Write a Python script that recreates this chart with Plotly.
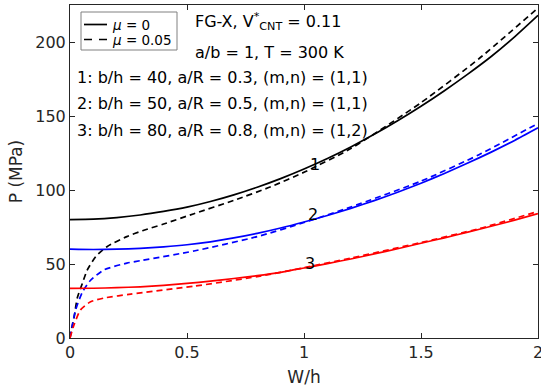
import plotly.graph_objects as go

# Solid curves (mu = 0)
w_solid = [0, 0.1, 0.2, 0.3, 0.4, 0.5, 0.6, 0.7, 0.8, 0.9, 1.0, 1.1, 1.2, 1.3, 1.4, 1.5, 1.6, 1.7, 1.8, 1.9, 2.0]
p1_solid = [80, 80.3, 81.4, 83.1, 85.5, 88.4, 92.2, 96.7, 101.9, 107.7, 114.2, 121.3, 129.1, 137.6, 146.8, 156.6, 167.1, 178.3, 190.2, 203.5, 218]
p2_solid = [60, 59.8, 60.0, 60.6, 61.6, 63.0, 65.0, 67.6, 70.7, 74.3, 78.4, 82.8, 87.6, 92.8, 98.5, 104.6, 111.2, 118.2, 125.6, 133.5, 142]
p3_solid = [33.5, 33.6, 34.0, 34.6, 35.6, 36.9, 38.4, 40.2, 42.1, 44.4, 47.3, 50.3, 53.4, 56.8, 60.3, 64.0, 67.7, 71.5, 75.5, 79.6, 84]

# Dashed curves (mu = 0.05)
w1_dash = [0, 0.005, 0.017, 0.031, 0.053, 0.074, 0.11, 0.158, 0.243, 0.31, 0.4, 0.53, 0.7, 0.855, 1.0, 1.2, 1.5, 1.75, 2.0]
p1_dash = [0, 5, 13.5, 27, 37, 46, 55, 61.7, 68.5, 72.5, 77, 84, 93, 102, 112, 128, 159, 189, 223]
w2_dash = [0, 0.01, 0.024, 0.053, 0.088, 0.145, 0.243, 0.31, 0.53, 0.8, 1.0, 1.2, 1.5, 1.75, 2.0]
p2_dash = [0, 8.8, 19, 31, 39, 46, 50.6, 52.5, 58.8, 68.5, 78, 88.5, 106, 124, 145]
w3_dash = [0, 0.017, 0.045, 0.088, 0.145, 0.26, 0.53, 0.8, 1.0, 1.2, 1.5, 1.75, 2.0]
p3_dash = [0, 8.8, 19, 24.5, 27, 29.7, 35, 41.5, 47.5, 54, 64.5, 74, 85.5]

x_ticks = [0, 0.5, 1, 1.5, 2]
x_ticktext = ["0", "0.5", "1", "1.5", "2"]
y_ticks = [0, 50, 100, 150, 200]

legend_labels = ["<i>μ</i> = 0", "<i>μ</i> = 0.05"]

FONT = "DejaVu Sans, Verdana, sans-serif"
AX = "#262626"
DASH = "6px,4px"

# plot-area pixel geometry
L, R, T, B = 70, 538, 5, 338
def px(x):
    return (x - L) / (R - L)
def py(y):
    return (B - y) / (B - T)

fig = go.Figure()

def add(x, y, color, dash):
    fig.add_trace(go.Scatter(
        x=x, y=y, mode="lines",
        line=dict(color=color, width=1.7, dash=dash, shape="spline", smoothing=0.6),
        showlegend=False, hoverinfo="skip"))

add(w_solid, p1_solid, "black", "solid")
add(w1_dash, p1_dash, "black", DASH)
add(w_solid, p2_solid, "blue", "solid")
add(w2_dash, p2_dash, "blue", DASH)
add(w_solid, p3_solid, "red", "solid")
add(w3_dash, p3_dash, "red", DASH)

texts = [
    (193, 22, "FG-X, V<sup>*</sup><sub>CNT</sub> = 0.11"),
    (193, 53, "a/b = 1, T = 300 K"),
    (75, 77, "1: b/h = 40, a/R = 0.3, (m,n) = (1,1)"),
    (75, 104, "2: b/h = 50, a/R = 0.5, (m,n) = (1,1)"),
    (75, 130, "3: b/h = 80, a/R = 0.8, (m,n) = (1,2)"),
]
annotations = []
for x, y, t in texts:
    annotations.append(dict(
        x=px(x), y=py(y), xref="paper", yref="paper",
        text=t, showarrow=False, xanchor="left", yanchor="middle",
        font=dict(family=FONT, size=16, color="black")))

# numeric curve labels (positioned in data coords)
for lx, ly, lt in [(1.047, 117, "1"), (1.038, 83.5, "2"), (1.026, 50.5, "3")]:
    annotations.append(dict(x=lx, y=ly, xref="x", yref="y", text=lt, showarrow=False,
                            font=dict(family=FONT, size=16, color="black")))

# legend box (drawn manually for exact spacing)
shapes = [
    dict(type="rect", xref="paper", yref="paper", x0=px(81), x1=px(177), y0=py(50), y1=py(12),
         line=dict(color="#808080", width=1), fillcolor="white", layer="above"),
    dict(type="line", xref="paper", yref="paper", x0=px(84), x1=px(107), y0=py(24.5), y1=py(24.5),
         line=dict(color="black", width=1.7), layer="above"),
    dict(type="line", xref="paper", yref="paper", x0=px(84), x1=px(107), y0=py(39.5), y1=py(39.5),
         line=dict(color="black", width=1.7, dash="8px,7px"), layer="above"),
]
for yy, lab in zip([25, 40], legend_labels):
    annotations.append(dict(x=px(110), y=py(yy), xref="paper", yref="paper", text=lab,
                            showarrow=False, xanchor="left", yanchor="middle",
                            font=dict(family=FONT, size=13.5, color="black")))

fig.update_layout(
    width=541, height=389,
    margin=dict(l=L, r=541 - R, t=T, b=389 - B, autoexpand=False),
    paper_bgcolor="white", plot_bgcolor="white",
    font=dict(family=FONT, size=16, color=AX),
    annotations=annotations,
    shapes=shapes,
    showlegend=False,
    xaxis=dict(
        range=[0, 2], tickvals=x_ticks, ticktext=x_ticktext,
        ticks="inside", ticklen=5, tickcolor=AX, showline=True, linecolor=AX, linewidth=1,
        mirror="ticks", showgrid=False, zeroline=False, ticklabeloverflow="allow",
        title=dict(text="W/h", font=dict(size=17, color=AX), standoff=9),
        tickfont=dict(size=16, color=AX),
    ),
    yaxis=dict(
        range=[0, 225], tickvals=y_ticks,
        ticks="inside", ticklen=5, tickcolor=AX, showline=True, linecolor=AX, linewidth=1,
        mirror="ticks", showgrid=False, zeroline=False,
        title=dict(text="P (MPa)", font=dict(size=17, color=AX), standoff=8),
        tickfont=dict(size=16, color=AX),
    ),
)

fig.write_html("out.html", config={"displayModeBar": False},
               post_script="document.body.style.margin='0';document.body.style.overflow='hidden';")
